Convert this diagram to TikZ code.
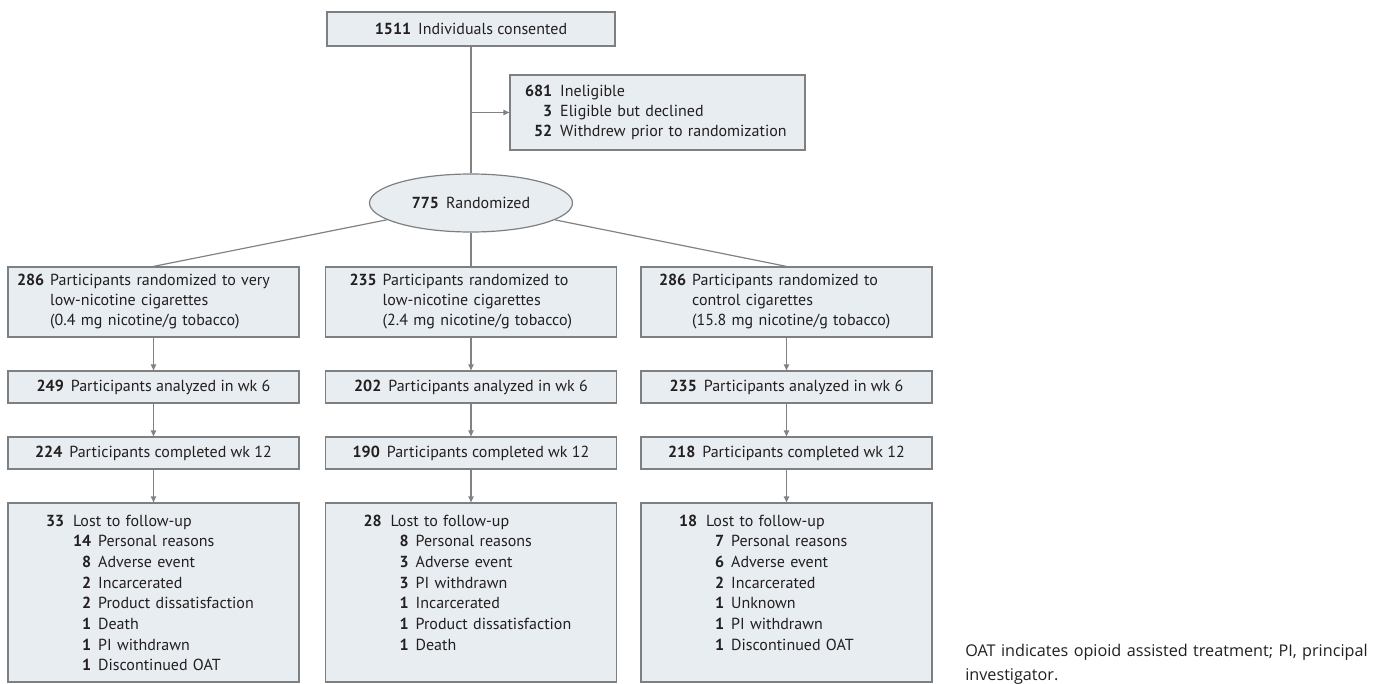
\documentclass[tikz,border=0pt]{standalone}
\usepackage{xcolor}
\usepackage{fontspec}
\setmainfont{PT Sans}
\newfontfamily\notefont{Open Sans}
\usepackage{tikz}
\usetikzlibrary{arrows.meta,shapes.geometric}

\definecolor{boxfill}{RGB}{231,237,241}
\definecolor{boxline}{RGB}{125,128,130}
\definecolor{flowline}{RGB}{130,130,130}
\definecolor{inktext}{RGB}{35,31,32}

\newcommand{\nb}[1]{\textbf{#1}}
\newcommand{\subn}[1]{\makebox[13.5pt][r]{\textbf{#1}}\hspace{5.25pt}}

\tikzset{
  box/.style={draw=boxline, fill=boxfill, line width=0.9pt, text=inktext,
    font=\fontsize{12pt}{15pt}\selectfont, inner sep=0pt},
  topbox/.style={box, minimum width=216pt, minimum height=25.5pt},
  exclbox/.style={box, minimum width=221.25pt, minimum height=56.25pt,
    inner xsep=11.25pt, text width=198.75pt, align=left},
  randnode/.style={box, ellipse, minimum width=152.25pt, minimum height=43.5pt},
  armbox/.style={box, minimum width=218.25pt, minimum height=52.5pt, align=left},
  countbox/.style={box, minimum width=218.25pt, minimum height=24pt, align=center},
  lossbox/.style={box, font=\fontsize{12pt}{15.5pt}\selectfont, align=left,
    inner xsep=28.5pt, text width=161.25pt, text height=17.25pt, text depth=117pt},
  flow/.style={draw=flowline, line width=0.9pt},
  note/.style={text=inktext, inner sep=0pt, align=left, text width=320pt,
    font=\notefont\fontsize{12.15pt}{18.5pt}\selectfont}
}

\begin{document}
\begin{tikzpicture}[x=0.75pt,y=-0.75pt,>={Triangle[length=4.5pt,width=4pt]}]
    \useasboundingbox (0,0) rectangle (1382,684);

    % Enrollment
    \node[topbox] (consent) at (471,29) {\nb{1511}\hspace{5.25pt}Individuals consented};
    \node[exclbox] (excl) at (657.5,112.5) {\begin{tabular}[t]{@{}r@{\hspace{6pt}}l@{}}
      \nb{681} & Ineligible\\
      \nb{3} & Eligible but declined\\
      \nb{52} & Withdrew prior to randomization
    \end{tabular}};
    \node[randnode] (rand) at (471,203) {\nb{775}\hspace{5.25pt}Randomized};

    % Allocation
    \node[armbox, inner xsep=6.75pt, text width=204.75pt] (armA) at (153.5,302) {\begin{tabular}[t]{@{}r@{\hspace{4.5pt}}l@{}}
      \nb{286} & Participants randomized to very\\
      & low-nicotine cigarettes\\
      & (0.4 mg nicotine/g tobacco)
    \end{tabular}};
    \node[armbox, inner xsep=18pt, text width=182.25pt] (armB) at (471,302) {\begin{tabular}[t]{@{}r@{\hspace{4.5pt}}l@{}}
      \nb{235} & Participants randomized to\\
      & low-nicotine cigarettes\\
      & (2.4 mg nicotine/g tobacco)
    \end{tabular}};
    \node[armbox, inner xsep=13.5pt, text width=191.25pt] (armC) at (786.5,302) {\begin{tabular}[t]{@{}r@{\hspace{4.5pt}}l@{}}
      \nb{286} & Participants randomized to\\
      & control cigarettes\\
      & (15.8 mg nicotine/g tobacco)
    \end{tabular}};

    % Week 6
    \node[countbox] (wksixA) at (153.5,387) {\nb{249}\hspace{5.25pt}Participants analyzed in wk 6};
    \node[countbox] (wksixB) at (471,387) {\nb{202}\hspace{5.25pt}Participants analyzed in wk 6};
    \node[countbox] (wksixC) at (786.5,387) {\nb{235}\hspace{5.25pt}Participants analyzed in wk 6};

    % Week 12
    \node[countbox] (wktwelveA) at (153.5,453) {\nb{224}\hspace{5.25pt}Participants completed wk 12};
    \node[countbox] (wktwelveB) at (471,453) {\nb{190}\hspace{5.25pt}Participants completed wk 12};
    \node[countbox] (wktwelveC) at (786.5,453) {\nb{218}\hspace{5.25pt}Participants completed wk 12};

    % Lost to follow-up
    \node[lossbox] (lostA) at (153.5,592.5) {\begin{tabular}[t]{@{}r@{\hspace{6.75pt}}l@{}}
      \nb{33} & Lost to follow-up\\
      & \subn{14}Personal reasons\\
      & \subn{8}Adverse event\\
      & \subn{2}Incarcerated\\
      & \subn{2}Product dissatisfaction\\
      & \subn{1}Death\\
      & \subn{1}PI withdrawn\\
      & \subn{1}Discontinued OAT
    \end{tabular}};
    \node[lossbox] (lostB) at (471,592.5) {\begin{tabular}[t]{@{}r@{\hspace{6.75pt}}l@{}}
      \nb{28} & Lost to follow-up\\
      & \subn{8}Personal reasons\\
      & \subn{3}Adverse event\\
      & \subn{3}PI withdrawn\\
      & \subn{1}Incarcerated\\
      & \subn{1}Product dissatisfaction\\
      & \subn{1}Death
    \end{tabular}};
    \node[lossbox] (lostC) at (786.5,592.5) {\begin{tabular}[t]{@{}r@{\hspace{6.75pt}}l@{}}
      \nb{18} & Lost to follow-up\\
      & \subn{7}Personal reasons\\
      & \subn{6}Adverse event\\
      & \subn{2}Incarcerated\\
      & \subn{1}Unknown\\
      & \subn{1}PI withdrawn\\
      & \subn{1}Discontinued OAT
    \end{tabular}};

    % Footnote
    \node[note, anchor=base west] (footnote) at (965,656) {OAT indicates opioid assisted treatment; PI, principal\\investigator.};

    % Connectors
    \coordinate (split) at (consent.south |- excl.west);
    \draw[flow] (consent) -- (rand);
    \draw[flow,->] (split) -- (excl.west);
    \draw[flow] (rand) -- (armA.north);
    \draw[flow] (rand) -- (armB);
    \draw[flow] (rand) -- (armC.north);
    \foreach \arm in {A,B,C} {
      \draw[flow,->] (arm\arm) -- (wksix\arm);
      \draw[flow,->] (wksix\arm) -- (wktwelve\arm);
      \draw[flow,->] (wktwelve\arm) -- (lost\arm);
    }
\end{tikzpicture}
\end{document}
